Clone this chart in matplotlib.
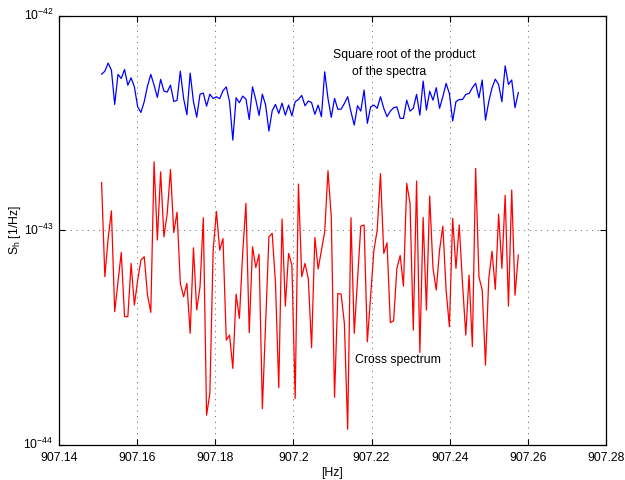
"""
Cross spectrum vs. square root of the product of the two spectra, around 907.2 Hz.
Values read off the reference plot, stored as log10(S_h).
"""
import matplotlib
matplotlib.use("Agg")
import matplotlib.pyplot as plt
import matplotlib.transforms as mtransforms
import numpy as np

plt.rcParams["font.family"] = ["Liberation Sans", "DejaVu Sans"]
plt.rcParams["mathtext.fontset"] = "custom"
plt.rcParams["mathtext.rm"] = "Liberation Sans"
plt.rcParams["mathtext.it"] = "Liberation Sans:italic"

# frequency bins (Hz)
F_START = 907.1509
F_STEP = 0.00084
N_BINS = 128

# log10 of sqrt(S1*S2) [1/Hz]
log_sqrt_prod = [
    -42.272, -42.258, -42.220, -42.253, -42.413, -42.273, -42.292, -42.250,
    -42.323, -42.289, -42.331, -42.424, -42.450, -42.400, -42.327, -42.273,
    -42.323, -42.380, -42.296, -42.351, -42.355, -42.323, -42.399, -42.394,
    -42.258, -42.385, -42.461, -42.267, -42.400, -42.472, -42.365, -42.360,
    -42.421, -42.365, -42.385, -42.377, -42.386, -42.349, -42.331, -42.400,
    -42.579, -42.382, -42.405, -42.374, -42.388, -42.483, -42.331, -42.391,
    -42.464, -42.365, -42.416, -42.537, -42.442, -42.413, -42.455, -42.407,
    -42.463, -42.416, -42.466, -42.400, -42.390, -42.371, -42.419, -42.397,
    -42.404, -42.459, -42.416, -42.470, -42.261, -42.385, -42.473, -42.385,
    -42.435, -42.435, -42.408, -42.377, -42.447, -42.509, -42.419, -42.444,
    -42.346, -42.501, -42.424, -42.416, -42.431, -42.377, -42.431, -42.470,
    -42.444, -42.428, -42.424, -42.478, -42.478, -42.393, -42.444, -42.431,
    -42.366, -42.463, -42.304, -42.439, -42.351, -42.393, -42.335, -42.431,
    -42.377, -42.315, -42.362, -42.490, -42.400, -42.390, -42.390, -42.366,
    -42.362, -42.335, -42.315, -42.382, -42.299, -42.486, -42.400, -42.335,
    -42.295, -42.320, -42.400, -42.233, -42.320, -42.299, -42.428, -42.358,
]

# log10 of |cross spectrum| [1/Hz]
log_cross = [
    -42.777, -43.216, -43.038, -42.909, -43.379, -43.239, -43.103, -43.402,
    -43.402, -43.154, -43.348, -43.232, -43.138, -43.123, -43.302, -43.382,
    -42.680, -43.045, -42.727, -43.030, -42.921, -42.716, -43.010, -42.915,
    -43.247, -43.309, -43.247, -43.480, -43.081, -43.371, -43.263, -42.941,
    -43.861, -43.760, -43.092, -42.912, -43.092, -43.038, -43.511, -43.488,
    -43.643, -43.297, -43.410, -43.107, -42.874, -43.477, -43.076, -43.173,
    -43.111, -43.831, -43.434, -43.030, -43.014, -43.247, -43.733, -42.947,
    -43.353, -43.107, -43.162, -43.783, -42.784, -43.216, -43.154, -43.224,
    -43.547, -43.033, -43.180, -43.092, -43.006, -42.722, -42.937, -43.778,
    -43.294, -43.297, -43.434, -43.927, -42.941, -43.480, -43.232, -42.980,
    -42.975, -43.519, -43.309, -43.092, -42.999, -42.735, -43.107, -43.058,
    -43.430, -43.421, -43.177, -43.117, -43.260, -42.781, -42.874, -43.465,
    -42.770, -43.569, -42.940, -43.371, -42.840, -43.177, -43.278, -43.092,
    -42.980, -43.278, -43.449, -42.944, -43.177, -42.975, -43.247, -43.488,
    -43.208, -43.542, -42.711, -43.216, -43.278, -43.628, -43.224, -43.097,
    -43.275, -42.924, -43.177, -42.836, -43.353, -42.812, -43.302, -43.115,
]

x_ticks = [907.14, 907.16, 907.18, 907.20, 907.22, 907.24, 907.26, 907.28]
x_tick_labels = ["907.14", "907.16", "907.18", "907.2", "907.22", "907.24",
                 "907.26", "907.28"]
y_ticks = [1e-44, 1e-43, 1e-42]


def main() -> None:
    freq = F_START + F_STEP * np.arange(N_BINS)
    sqrt_prod = 10.0 ** np.array(log_sqrt_prod)
    cross = 10.0 ** np.array(log_cross)

    fig = plt.figure(figsize=(6.25, 4.8), dpi=100)
    ax = fig.add_axes([0.0944, 0.073, 0.875, 0.894])

    ax.semilogy(freq, sqrt_prod, color="#0000ff", lw=0.9)
    ax.semilogy(freq, cross, color="#ff0000", lw=0.9)

    ax.set_xlim(907.14, 907.28)
    ax.set_ylim(1e-44, 1e-42)
    ax.set_xticks(x_ticks)
    ax.set_xticklabels(x_tick_labels)
    ax.set_yticks(y_ticks)
    ax.yaxis.set_minor_locator(matplotlib.ticker.NullLocator())

    ax.tick_params(which="both", direction="in", top=True, right=True,
                   length=4, width=0.8, labelsize=8.8, pad=4)
    ax.tick_params(axis="x", pad=5)
    for sp in ax.spines.values():
        sp.set_linewidth(0.9)

    # MATLAB-style: the "10" sits centred on the tick, exponent above it
    shift = mtransforms.ScaledTranslation(0, -4.2 / 100, fig.dpi_scale_trans)
    for lab in ax.get_yticklabels():
        lab.set_verticalalignment("baseline")
        lab.set_transform(lab.get_transform() + shift)

    ax.grid(True, which="major", color="0.35", lw=0.6, ls=(0, (1.3, 5.5)))

    ax.set_xlabel("[Hz]", fontsize=8.8, labelpad=2)
    ax.set_ylabel(r"S$_\mathrm{h}$ [1/Hz]", fontsize=8.8, labelpad=0)

    ax.text(907.2101, 6.56e-43, "Square root of the product",
            fontsize=8.8, va="center", ha="left")
    ax.text(907.2151, 5.47e-43, "of the spectra",
            fontsize=8.8, va="center", ha="left")
    ax.text(907.2159, 2.49e-44, "Cross spectrum",
            fontsize=8.8, va="center", ha="left")

    fig.savefig("out.png", dpi=100)


if __name__ == "__main__":
    main()
